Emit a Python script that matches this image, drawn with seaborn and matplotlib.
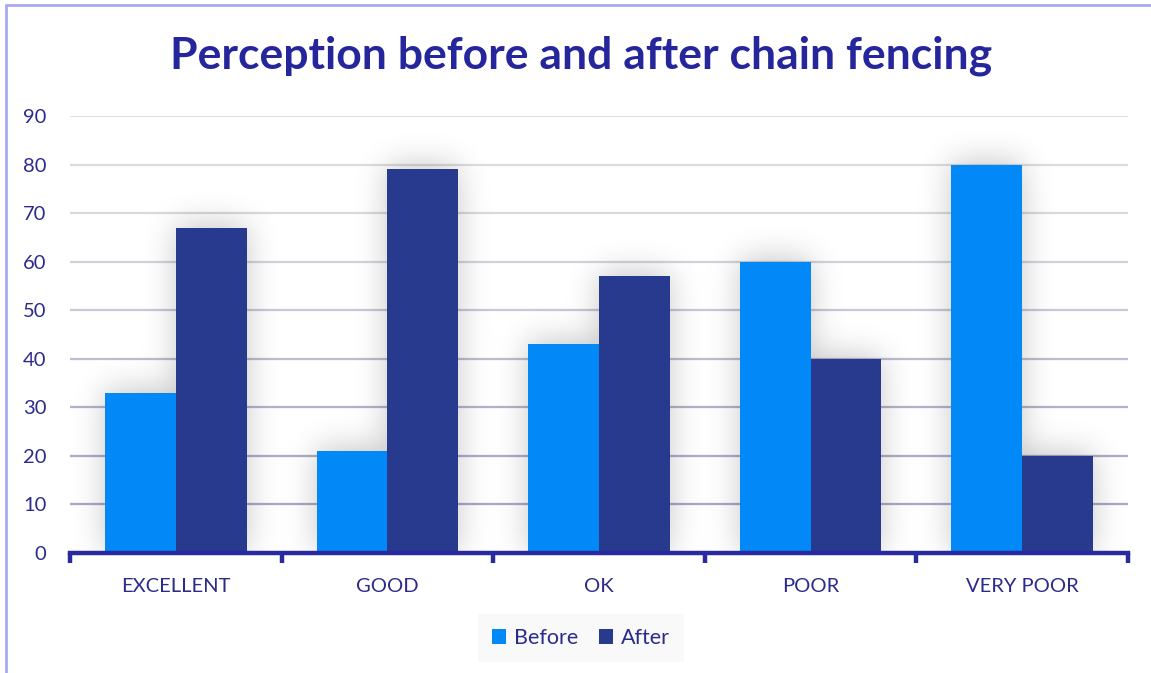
import numpy as np
import pandas as pd
import matplotlib
matplotlib.use("Agg")
import matplotlib.pyplot as plt
from matplotlib.lines import Line2D
from matplotlib.patches import Patch
import seaborn as sns

# Survey ratings before and after installing chain fencing
categories = ["EXCELLENT", "GOOD", "OK", "POOR", "VERY POOR"]
before = [33, 21, 43, 60, 80]
after = [67, 79, 57, 40, 20]
series_names = ["Before", "After"]
y_ticks = [0, 10, 20, 30, 40, 50, 60, 70, 80, 90]

df = pd.DataFrame({
    "rating": categories * 2,
    "value": before + after,
    "series": [series_names[0]] * len(categories) + [series_names[1]] * len(categories),
})

sns.set_theme(style="white")
plt.rcParams["font.family"] = ["Lato", "DejaVu Sans"]

TEXT = "#2B2B8C"
TITLE = "#25259C"
AXIS = "#2A2AA0"
palette = {"Before": "#0388F7", "After": "#283A8E"}

fig = plt.figure(figsize=(11.51, 6.73), dpi=100)
ax = fig.add_axes([70 / 1151, 1 - 553 / 673, (1128 - 70) / 1151, (553 - 116) / 673])

sns.barplot(data=df, x="rating", y="value", hue="series", order=categories,
            hue_order=series_names, palette=palette, width=0.67,
            saturation=1, linewidth=0, legend=False, ax=ax, zorder=3)

ax.set_xlim(-0.5, len(categories) - 0.5)
ax.set_ylim(0, 90)
ax.set_yticks(y_ticks)
ax.set_xlabel("")
ax.set_ylabel("")

# Gridlines fade from a cool grey near the base to a pale grey at the top
grid_colors = ["#A9A8C4", "#A9A8C4", "#ADACC6", "#B3B2CA", "#BDBCD0",
               "#C8C8D6", "#D2D2DB", "#D8D8DE", "#DCDCDF", "#DFDFE0"]
for yv, gc in zip(y_ticks, grid_colors):
    if yv > 0:
        ax.axhline(yv, color=gc, lw=1.6, zorder=0.5)

for s in ["top", "right", "left"]:
    ax.spines[s].set_visible(False)
ax.spines["bottom"].set_color(AXIS)
ax.spines["bottom"].set_linewidth(3.2)
ax.spines["bottom"].set_zorder(5)

ax.tick_params(axis="y", length=0, pad=17, labelsize=14.5, labelcolor=TEXT)
ax.tick_params(axis="x", which="major", length=0, pad=18, labelsize=14.5, labelcolor=TEXT)
ax.set_xticks(np.arange(-0.5, len(categories) + 0.5, 1.0), minor=True)
ax.tick_params(axis="x", which="minor", bottom=True, direction="out", length=7,
               width=3.2, color=AXIS)

# Soft shadow behind every bar, built from the bar geometry
fig.canvas.draw()
bbox = ax.get_window_extent()
W, H = int(round(bbox.width)), int(round(bbox.height))
mask = np.zeros((H, W))
for p in ax.patches:
    x0, y0 = ax.transData.transform((p.get_x(), p.get_y()))
    x1, y1 = ax.transData.transform((p.get_x() + p.get_width(), p.get_y() + p.get_height()))
    c0, c1 = int(round(x0 - bbox.x0)), int(round(x1 - bbox.x0))
    r0, r1 = int(round(y0 - bbox.y0)), int(round(y1 - bbox.y0))
    mask[max(r0, 0):min(r1 + 4, H), max(c0, 0):min(c1, W)] = 1.0
sig = 16.0
k = np.arange(-3 * sig, 3 * sig + 1)
kern = np.exp(-0.5 * (k / sig) ** 2)
kern /= kern.sum()
pad = len(k)
padded = np.pad(mask, pad, mode="constant")
blur = np.apply_along_axis(lambda r: np.convolve(r, kern, mode="same"), 1, padded)
blur = np.apply_along_axis(lambda c: np.convolve(c, kern, mode="same"), 0, blur)
blur = blur[pad:-pad, pad:-pad]
rgba = np.zeros((H, W, 4))
rgba[..., 3] = np.clip(blur, 0, 1) * 0.22
xl, yl = ax.get_xlim(), ax.get_ylim()
ax.imshow(rgba, extent=(xl[0], xl[1], yl[0], yl[1]), origin="lower",
          aspect="auto", zorder=1, interpolation="bilinear")
ax.set_xlim(xl)
ax.set_ylim(yl)

fig.text(581 / 1151, 1 - 56 / 673, "Perception before and after chain fencing",
         ha="center", va="center", fontsize=32, fontweight="bold", color=TITLE)

handles = [Patch(facecolor=palette[n], edgecolor="none") for n in series_names]
leg = fig.legend(handles, series_names, loc="center", bbox_to_anchor=(581 / 1151, 1 - 638 / 673),
                 ncol=2, frameon=True, fancybox=False, fontsize=15.5,
                 handlelength=0.65, handleheight=0.65, handletextpad=0.35,
                 columnspacing=1.0, borderpad=0.65)
leg.get_frame().set_facecolor("#F8F8F8")
leg.get_frame().set_edgecolor("none")
for t in leg.get_texts():
    t.set_color(TEXT)

# Chart frame edges
fig.add_artist(Line2D([6 / 1151, 6 / 1151], [0, 1 - 4.5 / 673], transform=fig.transFigure,
                      color="#AAAAF0", lw=2))
fig.add_artist(Line2D([6 / 1151, 1], [1 - 4.5 / 673, 1 - 4.5 / 673], transform=fig.transFigure,
                      color="#AAAAF0", lw=2))

fig.savefig("out.png", dpi=100, facecolor="white")
